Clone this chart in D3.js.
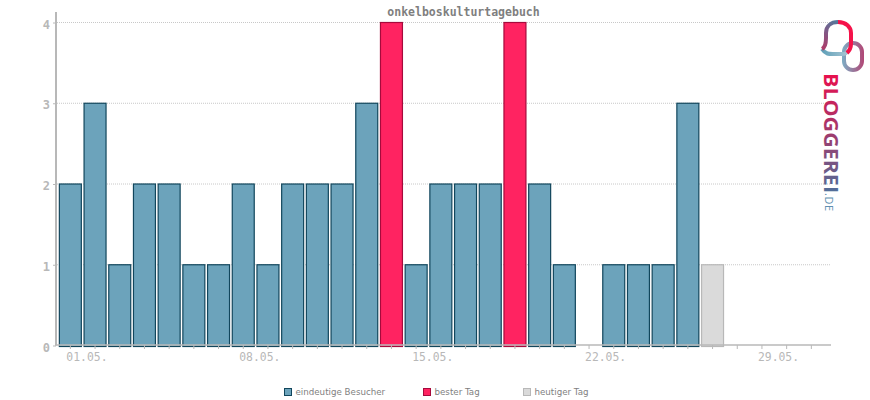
<!DOCTYPE html>
<html>
<head>
<meta charset="utf-8">
<script src="https://cdn.jsdelivr.net/npm/d3@7"></script>
<style>
  html, body { margin: 0; padding: 0; background: #fff; }
  svg { display: block; }
  text { font-family: "DejaVu Sans Mono", monospace; }
</style>
</head>
<body>
<div id="vis"></div>
<script>
const WIDTH = 870;
const HEIGHT = 400;

const TITLE = "onkelboskulturtagebuch";
const days = d3.range(1, 32);
const visitors = [2, 3, 1, 2, 2, 1, 1, 2, 1, 2, 2, 2, 3, 4, 1, 2, 2, 2, 4, 2, 1, 0, 1, 1, 1, 3, 1, 0, 0, 0, 0];
const bestDays = [14, 19];
const today = 27;
const yTicks = [0, 1, 2, 3, 4];
const xLabelDays = [1, 8, 15, 22, 29];
const legendLabels = ["eindeutige Besucher", "bester Tag", "heutiger Tag"];

const COLORS = {
    normal: ["#6ca3bb", "#11465c"],
    best: ["#ff2361", "#a60a3c"],
    today: ["#dadada", "#b8b8b8"]
};
const AXIS_COLOR = "#b8b8b8";

const svg = d3.select("#vis").append("svg")
    .attr("width", WIDTH)
    .attr("height", HEIGHT);

const x = d3.scaleBand().domain(days).range([58, 823.7]).paddingInner(0.07).paddingOuter(0.035);
const y = d3.scaleLinear().domain([0, 4]).range([345.5, 22.5]);

function dayKind(d) {
    if (d === today) return "today";
    if (bestDays.indexOf(d) >= 0) return "best";
    return "normal";
}

// grid
svg.append("g").selectAll("line")
    .data(yTicks.slice(1))
    .enter()
    .append("line")
    .attr("x1", 57)
    .attr("x2", 830)
    .attr("y1", d => y(d))
    .attr("y2", d => y(d))
    .attr("stroke", "#c8c8c8")
    .attr("stroke-dasharray", "1,1");

// bars, running 1px past the zero line so the dark edge shows under the axis
svg.append("g").selectAll("rect")
    .data(days)
    .enter()
    .filter((d, i) => visitors[i] > 0)
    .append("rect")
    .attr("x", d => x(d) + 0.5)
    .attr("width", x.bandwidth() - 1)
    .attr("y", d => y(visitors[d - 1]))
    .attr("height", d => y(0) - y(visitors[d - 1]) + 1)
    .attr("fill", d => COLORS[dayKind(d)][0])
    .attr("stroke", d => COLORS[dayKind(d)][1])
    .attr("stroke-width", 1.2);

// axes
const xAxis = svg.append("g").attr("transform", "translate(0," + (y(0) - 0.5) + ")")
    .call(d3.axisBottom(x).tickSize(4).tickFormat(""));
const yAxis = svg.append("g").attr("transform", "translate(56,0)")
    .call(d3.axisLeft(y).tickValues(yTicks).tickSize(3).tickFormat(""));
xAxis.selectAll(".tick line").attr("stroke", AXIS_COLOR);
yAxis.selectAll(".tick line").attr("stroke", AXIS_COLOR);
xAxis.select(".domain").remove();
yAxis.select(".domain").remove();

svg.append("line")
    .attr("x1", 55).attr("x2", 831)
    .attr("y1", y(0) - 0.5).attr("y2", y(0) - 0.5)
    .attr("stroke", AXIS_COLOR).attr("stroke-width", 1.5);
svg.append("line")
    .attr("x1", 56).attr("x2", 56)
    .attr("y1", 12).attr("y2", y(0))
    .attr("stroke", AXIS_COLOR).attr("stroke-width", 2);

// tick labels
svg.append("g").selectAll("text")
    .data(xLabelDays)
    .enter()
    .append("text")
    .attr("x", d => x(d) + x.bandwidth() / 2 - 4)
    .attr("y", 361)
    .attr("font-size", 11.4)
    .attr("fill", AXIS_COLOR)
    .text(d => d3.format("02")(d) + ".05.");

svg.append("g").selectAll("text")
    .data(yTicks)
    .enter()
    .append("text")
    .attr("x", 50)
    .attr("y", d => y(d) + 6)
    .attr("text-anchor", "end")
    .attr("font-size", 12)
    .attr("font-weight", "bold")
    .attr("fill", AXIS_COLOR)
    .text(d => d);

// title
svg.append("text")
    .attr("x", 463.5)
    .attr("y", 16)
    .attr("text-anchor", "middle")
    .attr("font-size", 11.5)
    .attr("font-weight", "bold")
    .attr("fill", "#7f7f7f")
    .text(TITLE);

// legend
const legendX = d3.scaleOrdinal().domain(legendLabels).range([284, 423, 523]);
const legendKeys = ["normal", "best", "today"];
const legend = svg.append("g").selectAll("g")
    .data(legendLabels)
    .enter()
    .append("g")
    .attr("transform", d => "translate(" + legendX(d) + ",388)");
legend.append("rect")
    .attr("x", 0.5).attr("y", 0.5)
    .attr("width", 7).attr("height", 7)
    .attr("fill", (d, i) => COLORS[legendKeys[i]][0])
    .attr("stroke", (d, i) => COLORS[legendKeys[i]][1]);
legend.append("text")
    .attr("x", 11.5)
    .attr("y", 7)
    .style("font-family", "'DejaVu Sans', sans-serif")
    .attr("font-size", 8.7)
    .attr("fill", "#7f7f7f")
    .text(d => d);

// logo
const defs = svg.append("defs");
function gradient(id, x1, y1, x2, y2, stops) {
    const g = defs.append("linearGradient")
        .attr("id", id)
        .attr("gradientUnits", "userSpaceOnUse")
        .attr("x1", x1).attr("y1", y1).attr("x2", x2).attr("y2", y2);
    stops.forEach(s => g.append("stop").attr("offset", s[0]).attr("stop-color", s[1]));
}
gradient("archGrad", 824, 50, 840, 21, [[0, "#b03a68"], [0.55, "#7d5a88"], [1, "#4f7d9e"]]);
gradient("ringGrad", 843, 0, 863, 0, [[0, "#7eaac2"], [1, "#b04a78"]]);
gradient("tailGrad", 822, 0, 848, 0, [[0, "#5fa0b8"], [1, "#a9c6d4"]]);
gradient("textGrad", 0, 0, 120, 0, [[0, "#ea0f4d"], [0.5, "#a03a6c"], [1, "#4f6f9a"]]);

const logo = svg.append("g").attr("fill", "none").attr("stroke-width", 4);
logo.append("rect")
    .attr("x", 844).attr("y", 43).attr("width", 18).attr("height", 27).attr("rx", 9)
    .attr("stroke", "url(#ringGrad)");
logo.append("path")
    .attr("d", "M822 49 C826 55 830 54 836 54 L842 54 C846 54 847 53 848 50")
    .attr("stroke", "url(#tailGrad)");
logo.append("path")
    .attr("d", "M822 49 C826 47 826 42 826 38 L826 33 C826 26 831 22 838 22")
    .attr("stroke", "url(#archGrad)");
logo.append("path")
    .attr("d", "M838 22 C846 22 851 27 851 33 L851 44 C851 49 849 51 847 53")
    .attr("stroke", "#f5124a");

svg.append("text")
    .attr("transform", "translate(824,73) rotate(90)")
    .style("font-family", "'Open Sans', sans-serif")
    .attr("font-size", 20)
    .attr("font-weight", "bold")
    .attr("textLength", 120)
    .attr("lengthAdjust", "spacingAndGlyphs")
    .attr("fill", "url(#textGrad)")
    .text("BLOGGEREI");
svg.append("text")
    .attr("transform", "translate(825,193) rotate(90)")
    .style("font-family", "'Open Sans', sans-serif")
    .attr("font-size", 11)
    .attr("textLength", 18)
    .attr("fill", "#5f8fb0")
    .text(".DE");
</script>
</body>
</html>
